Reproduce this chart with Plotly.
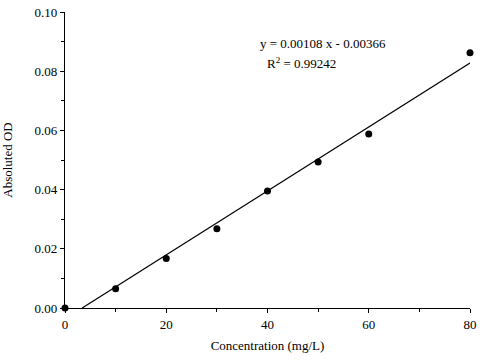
import plotly.graph_objects as go

conc = [0, 10, 20, 30, 40, 50, 60, 80]
od = [0.0, 0.0065, 0.0167, 0.0268, 0.0395, 0.0493, 0.0588, 0.0862]
slope = 0.00108
intercept = -0.00366
r2 = 0.99242

x0 = -intercept / slope
x1 = max(conc)
fit_x = [x0, x1]
fit_y = [slope * v + intercept for v in fit_x]

fig = go.Figure()
fig.add_trace(go.Scatter(x=fit_x, y=fit_y, mode="lines",
                         line=dict(color="black", width=1.2), showlegend=False))
fig.add_trace(go.Scatter(x=conc, y=od, mode="markers",
                         marker=dict(color="black", size=7), cliponaxis=False, showlegend=False))

font = dict(family="Liberation Serif, Times New Roman, serif", color="black")
fig.add_annotation(x=51, y=0.0892, text=f"y = {slope:.5f} x - {abs(intercept):.5f}",
                   showarrow=False, font=dict(size=13, **font), xanchor="center", yanchor="middle")
fig.add_annotation(x=39.5, y=0.0828, text=f"R<sup>2</sup> = {r2:.5f}",
                   showarrow=False, font=dict(size=13, **font), xanchor="left", yanchor="middle")

axis_common = dict(showline=True, linecolor="black", linewidth=1.2, showgrid=False,
                   zeroline=False, ticks="outside", ticklen=4, tickcolor="black", tickwidth=1,
                   tickfont=dict(size=13, **font), mirror=False, automargin=False)
fig.update_xaxes(range=[0, 80], dtick=20, tick0=0,
                 minor=dict(ticks="outside", ticklen=3, dtick=10, tickcolor="black"),
                 title=dict(text="Concentration (mg/L)", font=dict(size=13, **font), standoff=10),
                 **axis_common)
fig.update_yaxes(range=[0, 0.1], dtick=0.02, tick0=0, tickformat=".2f",
                 minor=dict(ticks="outside", ticklen=3, dtick=0.01, tickcolor="black"),
                 title=dict(text="Absoluted OD", font=dict(size=13, **font), standoff=18),
                 **axis_common)
fig.update_layout(width=480, height=360, plot_bgcolor="white", paper_bgcolor="white",
                  margin=dict(l=65, r=10, t=12, b=52), font=font)
fig.write_html("out.html", config={"displayModeBar": False},
               post_script="document.body.style.margin='0';document.body.style.padding='0';")
